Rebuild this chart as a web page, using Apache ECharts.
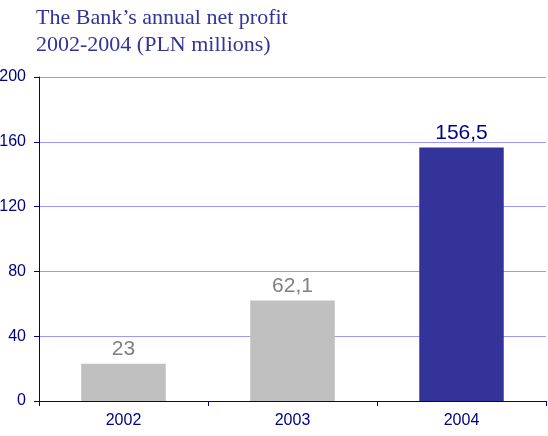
<!DOCTYPE html>
<html>
<head>
<meta charset="utf-8">
<script src="https://cdn.jsdelivr.net/npm/echarts@6/dist/echarts.min.js"></script>
<style>
  html, body { margin: 0; padding: 0; background: #ffffff; }
  #chart { width: 548px; height: 436px; }
</style>
</head>
<body>
<div id="chart"></div>
<script>
// Annual net profit, PLN millions
const years = ['2002', '2003', '2004'];
const profit = [23, 62.1, 156.5];
const barColors = ['#c0c0c0', '#c0c0c0', '#333399'];
const labelColors = ['#808080', '#808080', '#000080'];
const yTicks = { min: 0, max: 200, interval: 40 };

const chart = echarts.init(document.getElementById('chart'), null, { renderer: 'canvas' });

chart.setOption({
  animation: false,
  title: {
    text: 'The Bank\u2019s annual net profit\n2002-2004 (PLN millions)',
    left: 31,
    top: 0,
    textStyle: {
      fontFamily: 'Liberation Serif, serif',
      fontWeight: 'normal',
      fontSize: 22,
      lineHeight: 27,
      color: '#333399'
    }
  },
  grid: { left: 39, right: 2, top: 77, bottom: 35, containLabel: false, outerBoundsMode: 'none' },
  xAxis: {
    type: 'category',
    data: years,
    axisLine: { lineStyle: { color: '#000080', width: 1 } },
    axisTick: { show: true, length: 5, alignWithLabel: false, lineStyle: { color: '#000080' } },
    axisLabel: { color: '#000080', fontFamily: 'Liberation Sans, Arial, sans-serif', fontSize: 16, margin: 12 }
  },
  yAxis: {
    type: 'value',
    min: yTicks.min,
    max: yTicks.max,
    interval: yTicks.interval,
    axisLine: { show: true, lineStyle: { color: '#000080', width: 1 } },
    axisTick: { show: true, length: 5, lineStyle: { color: '#000080' } },
    axisLabel: { color: '#000080', fontFamily: 'Liberation Sans, Arial, sans-serif', fontSize: 16, margin: 13 },
    splitLine: { show: true, lineStyle: { color: '#9999ff', width: 1 } }
  },
  series: [{
    type: 'bar',
    barWidth: '50%',
    data: profit.map((v, i) => ({
      value: v,
      itemStyle: { color: barColors[i] },
      label: { color: labelColors[i] }
    })),
    label: {
      show: true,
      position: 'top',
      distance: 4,
      fontFamily: 'Liberation Sans, Arial, sans-serif',
      fontSize: 21,
      formatter: p => String(p.value).replace('.', ',')
    }
  }]
});
</script>
</body>
</html>
